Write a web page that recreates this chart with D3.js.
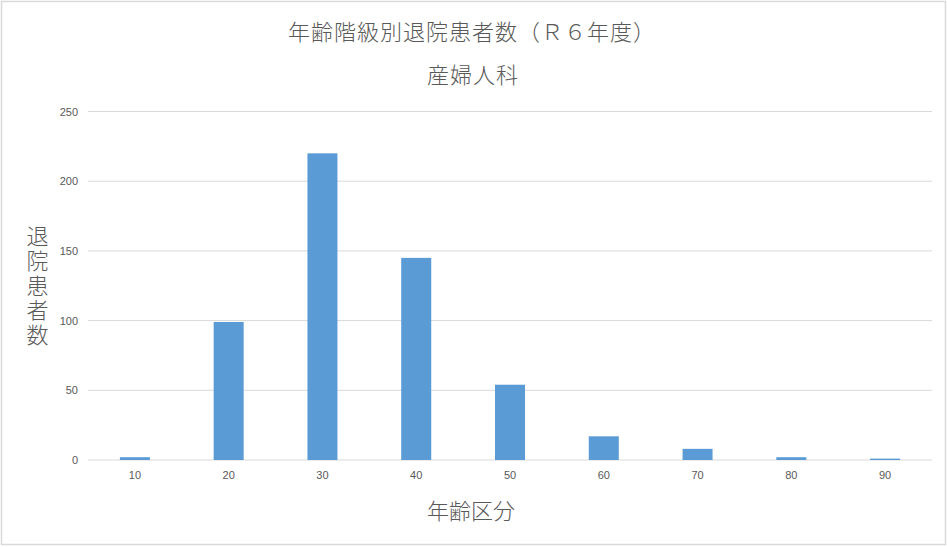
<!DOCTYPE html>
<html>
<head>
<meta charset="utf-8">
<script src="https://cdn.jsdelivr.net/npm/d3@7"></script>
<style>
  body { margin: 0; background: #fff; }
  text { font-family: "Noto Sans CJK JP", "Noto Sans", sans-serif; fill: #595959; font-weight: 300; }
</style>
</head>
<body>
<div id="main"></div>
<script>
// data
var ageGroups = ["10", "20", "30", "40", "50", "60", "70", "80", "90"];
var patients = [2, 99, 220, 145, 54, 17, 8, 2, 1];
var yTicks = [0, 50, 100, 150, 200, 250];

var W = 947, H = 547;
var margin = {top: 111.5, right: 15, bottom: 87, left: 88},
    width = W - margin.left - margin.right,
    height = H - margin.top - margin.bottom;

var root = d3.select("#main")
  .append("svg")
    .attr("width", W)
    .attr("height", H);

// outer frame
root.append("rect")
  .attr("x", 1.5).attr("y", 1.5)
  .attr("width", W - 3).attr("height", H - 4)
  .attr("fill", "#fff")
  .attr("stroke", "#d9d9d9")
  .attr("stroke-width", 1.5);

// titles
root.append("text")
  .attr("x", 472).attr("y", 40)
  .attr("text-anchor", "middle")
  .style("font-size", "22px")
  .style("letter-spacing", "1px")
  .text("年齢階級別退院患者数（Ｒ６年度）");

root.append("text")
  .attr("x", 473).attr("y", 83)
  .attr("text-anchor", "middle")
  .style("font-size", "22px")
  .style("letter-spacing", "1px")
  .text("産婦人科");

var svg = root.append("g")
  .attr("transform", "translate(" + margin.left + "," + margin.top + ")");

var xScale = d3.scaleBand()
  .domain(ageGroups)
  .range([0, width])
  .paddingInner(0.68)
  .paddingOuter(0.34);

var yScale = d3.scaleLinear()
  .domain([0, 250])
  .range([height, 0]);

// gridlines
svg.append("g")
  .selectAll("line")
  .data(yTicks)
  .enter()
  .append("line")
    .attr("x1", 0)
    .attr("x2", width)
    .attr("y1", function(d) { return yScale(d); })
    .attr("y2", function(d) { return yScale(d); })
    .attr("stroke", "#d9d9d9")
    .attr("stroke-width", 1);

// y axis labels
var yAxis = svg.append("g")
  .call(d3.axisLeft(yScale).tickValues(yTicks).tickSize(0).tickPadding(10));
yAxis.select(".domain").remove();
yAxis.selectAll("text")
  .style("font-size", "11px")
  .style("font-family", "'Liberation Sans', 'Noto Sans', sans-serif")
  .style("font-weight", "400")
  .attr("fill", "#595959");

// x axis labels
var xAxis = svg.append("g")
  .attr("transform", "translate(0," + height + ")")
  .call(d3.axisBottom(xScale).tickSize(0).tickPadding(11));
xAxis.select(".domain").remove();
xAxis.selectAll("text")
  .style("font-size", "11px")
  .style("font-family", "'Liberation Sans', 'Noto Sans', sans-serif")
  .style("font-weight", "400")
  .attr("fill", "#595959");

// bars
svg.selectAll(".bar")
  .data(patients)
  .enter()
  .append("rect")
    .attr("class", "bar")
    .attr("x", function(d, i) { return xScale(ageGroups[i]); })
    .attr("y", function(d) { return yScale(d); })
    .attr("width", xScale.bandwidth())
    .attr("height", function(d) { return height - yScale(d); })
    .attr("fill", "#5b9bd5");

// axis titles
root.append("text")
  .attr("x", 471).attr("y", 519)
  .attr("text-anchor", "middle")
  .style("font-size", "22px")
  .text("年齢区分");

// vertical y title, one character per line
root.append("text")
  .attr("x", 37.5).attr("y", 225)
  .style("font-size", "22px")
  .style("writing-mode", "vertical-rl")
  .style("text-orientation", "upright")
  .style("letter-spacing", "2.6px")
  .text("退院患者数");
</script>
</body>
</html>
